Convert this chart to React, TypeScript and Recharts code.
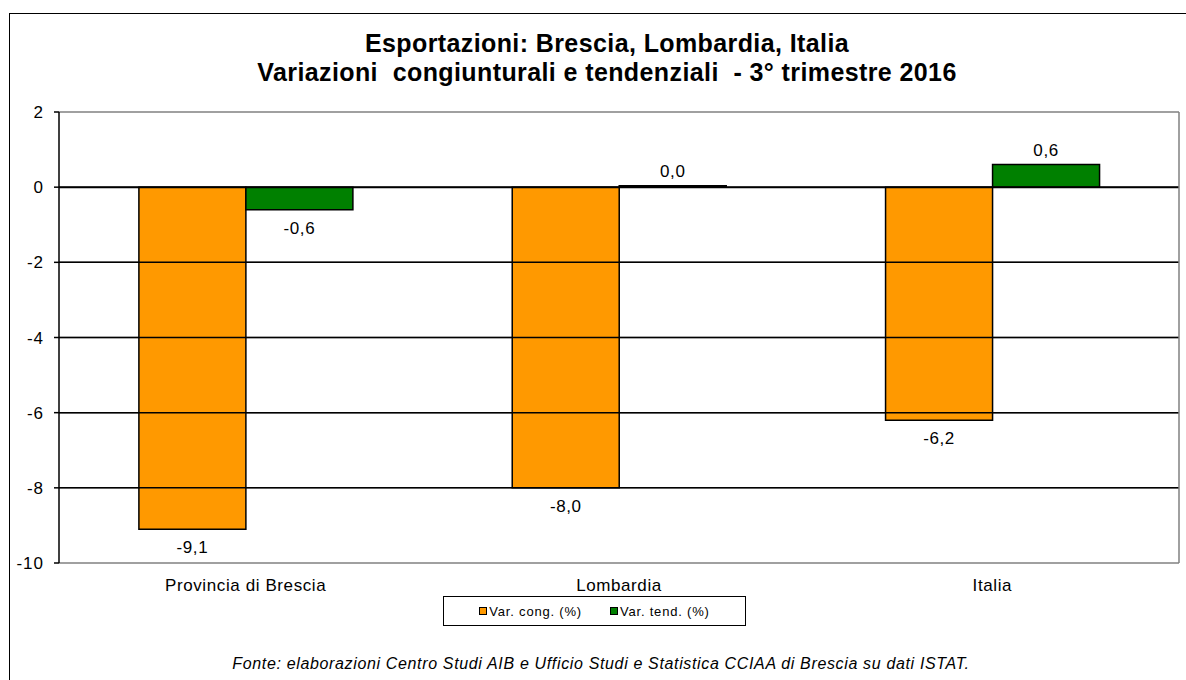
import { Bar, BarChart, CartesianGrid, LabelList, ReferenceLine, XAxis, YAxis } from 'recharts'

const categories = ['Provincia di Brescia', 'Lombardia', 'Italia']
const varCong = [-9.1, -8.0, -6.2]
const varTend = [-0.6, 0.04, 0.6]
const yTicks = [2, 0, -2, -4, -6, -8, -10]
const innerGrid = [0, -2, -4, -6, -8]

const seriesInfo = [
  { key: 'cong', name: 'Var. cong. (%)', color: '#FF9900' },
  { key: 'tend', name: 'Var. tend. (%)', color: '#008000' },
]

const data = categories.map((name, i) => ({ name, cong: varCong[i], tend: varTend[i] }))

const FONT = '"Liberation Sans", Arial, sans-serif'

function formatIt(value: number): string {
  return value.toFixed(1).replace('.', ',')
}

function BarValueLabel(props: any) {
  const { x, y, width, height, value } = props
  const top = Math.min(y, y + height)
  const bottom = Math.max(y, y + height)
  const cx = x + width / 2
  const ty = value < 0 ? bottom + 24 : top - 9
  return (
    <text x={cx} y={ty} textAnchor="middle" fontSize={17} letterSpacing={0.6} fill="#000" fontFamily={FONT}>
      {formatIt(value)}
    </text>
  )
}

function LegendBox() {
  return (
    <div
      style={{
        position: 'absolute',
        left: 443,
        top: 596,
        width: 303,
        height: 30,
        border: '1.5px solid #000',
        boxSizing: 'border-box',
        display: 'flex',
        alignItems: 'center',
        justifyContent: 'center',
        gap: 28,
        fontFamily: FONT,
        fontSize: 13,
        background: '#fff',
      }}
    >
      {seriesInfo.map((s) => (
        <span key={s.key} style={{ display: 'flex', alignItems: 'center', letterSpacing: 0.8 }}>
          <span
            style={{
              display: 'inline-block',
              width: 6,
              height: 6,
              background: s.color,
              border: '1px solid #000',
              marginRight: 2,
            }}
          />
          {s.name}
        </span>
      ))}
    </div>
  )
}

export default function App() {
  return (
    <div style={{ position: 'absolute', left: 0, top: 0, width: 1186, height: 680, background: '#fff', overflow: 'hidden' }}>
      <div
        style={{
          position: 'absolute',
          left: 9,
          top: 13,
          width: 1200,
          height: 700,
          border: '1.5px solid #000',
          boxSizing: 'border-box',
        }}
      />
      <div
        style={{
          position: 'absolute',
          left: 0,
          top: 29,
          width: 1214,
          textAlign: 'center',
          fontFamily: FONT,
          fontWeight: 'bold',
          fontSize: 25,
          lineHeight: '29px',
          letterSpacing: 0.4,
        }}
      >
        Esportazioni: Brescia, Lombardia, Italia
        <br />
        Variazioni&nbsp; congiunturali e tendenziali&nbsp; - 3° trimestre 2016
      </div>
      <div style={{ position: 'absolute', left: 0, top: 0 }}>
        <BarChart
          width={1186}
          height={680}
          data={data}
          margin={{ top: 112, right: 3, bottom: 87, left: 0 }}
          barCategoryGap="21.4%"
          barGap={0}
        >
          <CartesianGrid vertical={false} stroke="#808080" strokeWidth={1.5} />
          <XAxis
            dataKey="name"
            axisLine={false}
            tickLine={false}
            tick={{ fontSize: 17, fill: '#000', fontFamily: FONT, letterSpacing: 0.6 }}
            tickMargin={10}
            height={30}
          />
          <YAxis
            domain={[-10, 2]}
            ticks={yTicks}
            interval={0}
            width={59}
            axisLine={{ stroke: '#000', strokeWidth: 1.5 }}
            tickLine={{ stroke: '#000', strokeWidth: 1.5 }}
            tickSize={5}
            tickMargin={10}
            tick={{ fontSize: 17, fill: '#000', fontFamily: FONT, letterSpacing: 1 }}
          />
          <YAxis
            yAxisId="right"
            orientation="right"
            width={4}
            tick={false}
            tickLine={false}
            axisLine={{ stroke: '#808080', strokeWidth: 1.5 }}
          />
          {innerGrid.map((v) => (
            <ReferenceLine key={v} y={v} stroke="#000" strokeWidth={v === 0 ? 2 : 1.5} />
          ))}
          {seriesInfo.map((s) => (
            <Bar
              key={s.key}
              dataKey={s.key}
              name={s.name}
              fill={s.color}
              stroke="#000"
              strokeWidth={1.5}
              isAnimationActive={false}
            >
              <LabelList dataKey={s.key} content={BarValueLabel} />
            </Bar>
          ))}
        </BarChart>
      </div>
      <LegendBox />
      <div
        style={{
          position: 'absolute',
          left: 0,
          top: 655,
          width: 1202,
          textAlign: 'center',
          fontFamily: FONT,
          fontStyle: 'italic',
          fontSize: 16,
          letterSpacing: 0.65,
        }}
      >
        Fonte: elaborazioni Centro Studi AIB e Ufficio Studi e Statistica CCIAA di Brescia su dati ISTAT.
      </div>
    </div>
  )
}
